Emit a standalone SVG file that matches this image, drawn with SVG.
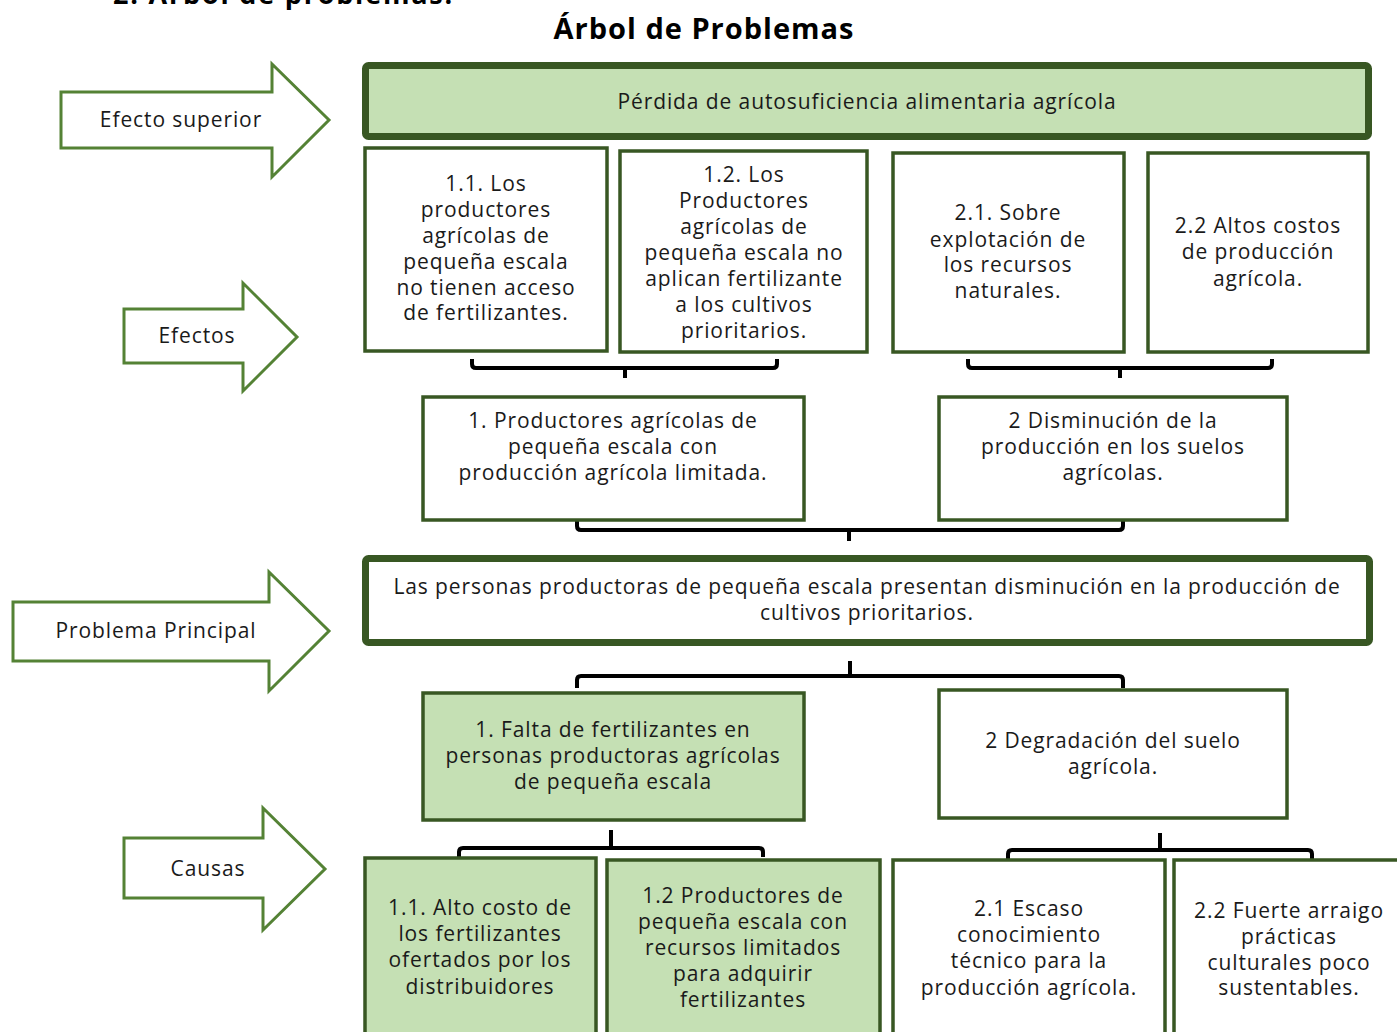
<svg xmlns="http://www.w3.org/2000/svg" width="1397" height="1032" viewBox="0 0 1397 1032">
<style>
text{font-family:"Open Sans","Liberation Sans",sans-serif;font-size:21px;letter-spacing:0.9px;fill:#1a1a1a;text-anchor:middle}
.title{font-weight:bold;font-size:29px;letter-spacing:1px;fill:#000}
.box{fill:#fff;stroke:#385723;stroke-width:3.5}
.gbox{fill:#c5e0b4;stroke:#385723;stroke-width:3.5}
.big{stroke:#385723;stroke-width:7}
.arrow{fill:#fff;stroke:#548235;stroke-width:3;stroke-linejoin:miter}
.conn{fill:none;stroke:#000;stroke-width:4;stroke-linecap:butt;stroke-linejoin:round}
</style>
<rect width="1397" height="1032" fill="#fff"/>
<text class="title" x="113" y="4" style="text-anchor:start;font-size:27px;letter-spacing:1.8px">2. Árbol de problemas.</text>
<text class="title" x="704" y="39">Árbol de Problemas</text>

<g id="arrow-efecto-superior">
<polygon class="arrow" points="61,92 272,92 272,64 329,120 272,177 272,148 61,148"/>
<text x="181" y="127">Efecto superior</text>
</g>
<g id="arrow-efectos">
<polygon class="arrow" points="124,309 243,309 243,283 297,337 243,391 243,363 124,363"/>
<text x="197" y="343">Efectos</text>
</g>
<g id="arrow-problema">
<polygon class="arrow" points="13,602 269,602 269,572 329,631 269,691 269,661 13,661"/>
<text x="156" y="638">Problema Principal</text>
</g>
<g id="arrow-causas">
<polygon class="arrow" points="124,838 263,838 263,808 325,869 263,930 263,898 124,898"/>
<text x="208" y="876">Causas</text>
</g>

<g id="connectors">
<path class="conn" d="M472 359 V364 Q472 368 476 368 H773 Q777 368 777 364 V359 M625 368 V378"/>
<path class="conn" d="M968 359 V364 Q968 368 972 368 H1268 Q1272 368 1272 364 V359 M1120 368 V378"/>
<path class="conn" d="M577 520 V526 Q577 530 581 530 H1119 Q1123 530 1123 526 V520 M849 530 V541"/>
<path class="conn" d="M850 661 V676 M577 688 V680 Q577 676 581 676 H1119 Q1123 676 1123 680 V688"/>
<path class="conn" d="M611 830 V848 M459 857 V852 Q459 848 463 848 H759 Q763 848 763 852 V857"/>
<path class="conn" d="M1160 833 V850 M1008 859 V854 Q1008 850 1012 850 H1308 Q1312 850 1312 854 V859"/>
</g>

<g id="efecto-superior">
<rect class="gbox big" x="365.5" y="65.5" width="1003" height="71" rx="3"/>
<text x="867" y="109">Pérdida de autosuficiencia alimentaria agrícola</text>
</g>

<g id="efecto-1-1">
<rect class="box" x="365" y="148" width="242" height="203"/>
<text x="486" y="191">1.1. Los</text>
<text x="486" y="217">productores</text>
<text x="486" y="243">agrícolas de</text>
<text x="486" y="269">pequeña escala</text>
<text x="486" y="295">no tienen acceso</text>
<text x="486" y="320">de fertilizantes.</text>
</g>
<g id="efecto-1-2">
<rect class="box" x="620" y="151" width="247" height="201"/>
<text x="744" y="182">1.2. Los</text>
<text x="744" y="208">Productores</text>
<text x="744" y="234">agrícolas de</text>
<text x="744" y="260">pequeña escala no</text>
<text x="744" y="286">aplican fertilizante</text>
<text x="744" y="312">a los cultivos</text>
<text x="744" y="338">prioritarios.</text>
</g>
<g id="efecto-2-1">
<rect class="box" x="893" y="153" width="231" height="199"/>
<text x="1008" y="220">2.1. Sobre</text>
<text x="1008" y="247">explotación de</text>
<text x="1008" y="272">los recursos</text>
<text x="1008" y="298">naturales.</text>
</g>
<g id="efecto-2-2">
<rect class="box" x="1148" y="153" width="220" height="199"/>
<text x="1258" y="233">2.2 Altos costos</text>
<text x="1258" y="259">de producción</text>
<text x="1258" y="286">agrícola.</text>
</g>

<g id="efecto-1">
<rect class="box" x="423" y="397" width="381" height="123"/>
<text x="613" y="428">1. Productores agrícolas de</text>
<text x="613" y="454">pequeña escala con</text>
<text x="613" y="480">producción agrícola limitada.</text>
</g>
<g id="efecto-2">
<rect class="box" x="939" y="397" width="348" height="123"/>
<text x="1113" y="428">2 Disminución de la</text>
<text x="1113" y="454">producción en los suelos</text>
<text x="1113" y="480">agrícolas.</text>
</g>

<g id="problema-principal">
<rect class="box big" x="365.5" y="558.5" width="1004" height="84" rx="3"/>
<text x="867" y="594">Las personas productoras de pequeña escala presentan disminución en la producción de</text>
<text x="867" y="620">cultivos prioritarios.</text>
</g>

<g id="causa-1">
<rect class="gbox" x="423" y="693" width="381" height="127"/>
<text x="613" y="737">1. Falta de fertilizantes en</text>
<text x="613" y="763">personas productoras agrícolas</text>
<text x="613" y="789">de pequeña escala</text>
</g>
<g id="causa-2">
<rect class="box" x="939" y="690" width="348" height="128"/>
<text x="1113" y="748">2 Degradación del suelo</text>
<text x="1113" y="774">agrícola.</text>
</g>

<g id="causa-1-1">
<rect class="gbox" x="365" y="858" width="231" height="190"/>
<text x="480" y="915">1.1. Alto costo de</text>
<text x="480" y="941">los fertilizantes</text>
<text x="480" y="967">ofertados por los</text>
<text x="480" y="994">distribuidores</text>
</g>
<g id="causa-1-2">
<rect class="gbox" x="607" y="860" width="273" height="190"/>
<text x="743" y="903">1.2 Productores de</text>
<text x="743" y="929">pequeña escala con</text>
<text x="743" y="955">recursos limitados</text>
<text x="743" y="981">para adquirir</text>
<text x="743" y="1007">fertilizantes</text>
</g>
<g id="causa-2-1">
<rect class="box" x="893" y="860" width="272" height="190"/>
<text x="1029" y="916">2.1 Escaso</text>
<text x="1029" y="942">conocimiento</text>
<text x="1029" y="968">técnico para la</text>
<text x="1029" y="995">producción agrícola.</text>
</g>
<g id="causa-2-2">
<rect class="box" x="1174" y="860" width="240" height="190"/>
<text x="1289" y="918">2.2 Fuerte arraigo</text>
<text x="1289" y="944">prácticas</text>
<text x="1289" y="970">culturales poco</text>
<text x="1289" y="995">sustentables.</text>
</g>
</svg>
